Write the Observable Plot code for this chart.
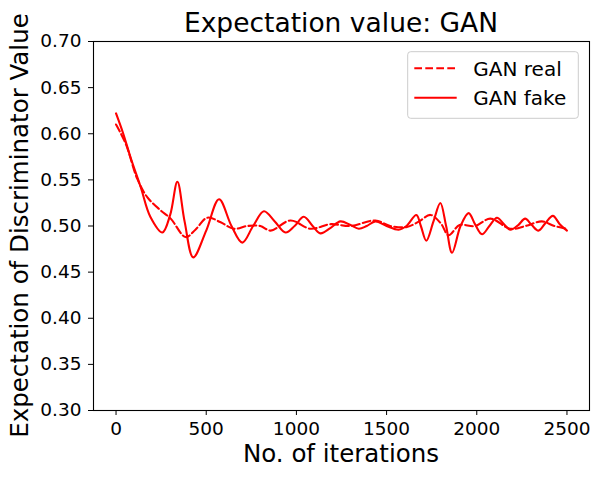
<!DOCTYPE html>
<html>
<head>
<meta charset="utf-8">
<script src="https://cdn.jsdelivr.net/npm/d3@7"></script>
<script src="https://cdn.jsdelivr.net/npm/@observablehq/plot@0.6"></script>
<style>
  body { margin: 0; background: #fff; }
  #chart { position: relative; width: 600px; height: 478px; }
</style>
</head>
<body>
<div id="chart"></div>
<script>
const title = "Expectation value: GAN";
const xLabel = "No. of iterations";
const yLabel = "Expectation of Discriminator Value";
const seriesNames = ["GAN real", "GAN fake"];

const xTicks = [0, 500, 1000, 1500, 2000, 2500];
const yTicks = [0.30, 0.35, 0.40, 0.45, 0.50, 0.55, 0.60, 0.65, 0.70];

const realIters = [0, 54, 118, 174, 247, 303, 386, 440, 506, 580, 652, 727, 800, 857, 967, 1078, 1190, 1300, 1438, 1520, 1613, 1680, 1743, 1800, 1844, 1905, 1990, 2075, 2186, 2270, 2361, 2430, 2500];
const realVals  = [0.610, 0.589, 0.551, 0.531, 0.517, 0.508, 0.488, 0.496, 0.509, 0.504, 0.497, 0.500, 0.500, 0.495, 0.506, 0.497, 0.502, 0.500, 0.506, 0.500, 0.499, 0.505, 0.512, 0.503, 0.490, 0.501, 0.500, 0.508, 0.497, 0.500, 0.505, 0.500, 0.497];

const fakeIters = [0, 40, 81, 137, 190, 257, 300, 340, 380, 428, 500, 571, 640, 700, 760, 820, 880, 940, 990, 1041, 1090, 1133, 1190, 1244, 1300, 1346, 1390, 1438, 1500, 1567, 1610, 1665, 1690, 1720, 1760, 1798, 1830, 1863, 1910, 1955, 1990, 2029, 2070, 2112, 2150, 2186, 2230, 2268, 2305, 2342, 2380, 2422, 2460, 2500];
const fakeVals  = [0.622, 0.600, 0.574, 0.542, 0.510, 0.493, 0.512, 0.548, 0.505, 0.466, 0.495, 0.529, 0.500, 0.482, 0.500, 0.516, 0.505, 0.493, 0.500, 0.510, 0.500, 0.492, 0.498, 0.505, 0.501, 0.497, 0.500, 0.505, 0.500, 0.496, 0.500, 0.512, 0.500, 0.484, 0.505, 0.525, 0.500, 0.471, 0.500, 0.514, 0.502, 0.491, 0.500, 0.509, 0.502, 0.496, 0.501, 0.508, 0.501, 0.495, 0.503, 0.511, 0.502, 0.495];

const real = realIters.map((x, i) => ({x, y: realVals[i]}));
const fake = fakeIters.map((x, i) => ({x, y: fakeVals[i]}));

const W = 600, H = 478;
const mL = 93, mR = 11, mT = 41, mB = 68;
const font = "DejaVu Sans, sans-serif";

const plot = Plot.plot({
  width: W, height: H,
  marginLeft: mL, marginRight: mR, marginTop: mT, marginBottom: mB,
  style: {fontFamily: font, fontSize: "18.5px", color: "#000", background: "#fff"},
  x: {domain: [-125, 2625], ticks: xTicks, tickFormat: d3.format("d"), label: null, tickSize: 5, tickPadding: 6.5},
  y: {domain: [0.30, 0.70], ticks: yTicks, tickFormat: d3.format(".2f"), label: null, tickSize: 5, tickPadding: 7},
  marks: [
    Plot.line(real, {x: "x", y: "y", stroke: "#ff0000", strokeWidth: 2.1, strokeDasharray: "7.7,3.3", curve: "catmull-rom"}),
    Plot.line(fake, {x: "x", y: "y", stroke: "#ff0000", strokeWidth: 2.1, curve: "catmull-rom"}),
    Plot.frame({stroke: "#000", strokeWidth: 1.1})
  ]
});
document.getElementById("chart").appendChild(plot);

const svg = d3.select(plot);
svg.selectAll("[aria-label='x-axis tick'], [aria-label='y-axis tick']").attr("stroke", "#000");
svg.selectAll("[aria-label='x-axis tick label'], [aria-label='y-axis tick label']").attr("fill", "#000");

const cx = mL + (W - mL - mR) / 2;
const cy = mT + (H - mT - mB) / 2;

svg.append("text")
  .attr("x", cx).attr("y", 31.7)
  .attr("text-anchor", "middle")
  .attr("font-family", font).attr("font-size", 26.5).attr("fill", "#000")
  .text(title);

svg.append("text")
  .attr("x", cx).attr("y", 462.3)
  .attr("text-anchor", "middle")
  .attr("font-family", font).attr("font-size", 24.5).attr("fill", "#000")
  .text(xLabel);

svg.append("text")
  .attr("transform", `translate(28,${cy}) rotate(-90)`)
  .attr("text-anchor", "middle")
  .attr("font-family", font).attr("font-size", 24.5).attr("fill", "#000")
  .text(yLabel);

// legend
const lg = svg.append("g");
lg.append("rect")
  .attr("x", 407.7).attr("y", 51.7).attr("width", 170.6).attr("height", 66.6)
  .attr("rx", 3).attr("fill", "#fff").attr("fill-opacity", 0.8)
  .attr("stroke", "#cccccc").attr("stroke-width", 1);
const rows = [
  {name: seriesNames[0], y: 68.3, dash: "7.7,3.3"},
  {name: seriesNames[1], y: 97.7, dash: null}
];
rows.forEach(r => {
  const ln = lg.append("line")
    .attr("x1", 414.3).attr("x2", 456.7).attr("y1", r.y).attr("y2", r.y)
    .attr("stroke", "#ff0000").attr("stroke-width", 2.1);
  if (r.dash) ln.attr("stroke-dasharray", r.dash);
  lg.append("text")
    .attr("x", 473.3).attr("y", r.y).attr("dy", "0.36em")
    .attr("text-anchor", "start")
    .attr("font-family", font).attr("font-size", 20).attr("fill", "#000")
    .text(r.name);
});
</script>
</body>
</html>
